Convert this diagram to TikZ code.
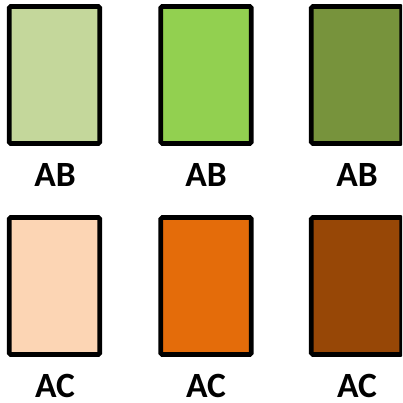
\documentclass[tikz,border=0pt]{standalone}
\usepackage{fontspec}
\setmainfont{Carlito}
\definecolor{gA}{HTML}{C4D79B}
\definecolor{gB}{HTML}{92D050}
\definecolor{gC}{HTML}{77933C}
\definecolor{oA}{HTML}{FCD5B4}
\definecolor{oB}{HTML}{E46C0A}
\definecolor{oC}{HTML}{974706}
\tikzset{
  swatch/.style={draw=black, line width=4.6pt, rounded corners=1.5pt, minimum width=90.5pt, minimum height=137pt, inner sep=0pt, fill=#1},
  lbl/.style={anchor=base, inner sep=0pt, font=\fontsize{35.5pt}{35.5pt}\selectfont\bfseries}
}
\begin{document}
\begin{tikzpicture}[x=1pt, y=-1pt]
\clip (0,0) rectangle (402,403);
\fill[white] (0,0) rectangle (402,403);
\node[swatch=gA] (r1) at (54.5,75) {};
\node[swatch=gB] (r2) at (206,75) {};
\node[swatch=gC] (r3) at (356.5,75) {};
\node[swatch=oA] (r4) at (54.5,286) {};
\node[swatch=oB] (r5) at (206,286) {};
\node[swatch=oC] (r6) at (356.5,286) {};
\node[lbl] (l1) at (55,186.5) {AB};
\node[lbl] (l2) at (206,186.5) {AB};
\node[lbl] (l3) at (357,186.5) {AB};
\node[lbl] (l4) at (55,397.5) {AC};
\node[lbl] (l5) at (206,397.5) {AC};
\node[lbl] (l6) at (357,397.5) {AC};
\end{tikzpicture}
\end{document}
